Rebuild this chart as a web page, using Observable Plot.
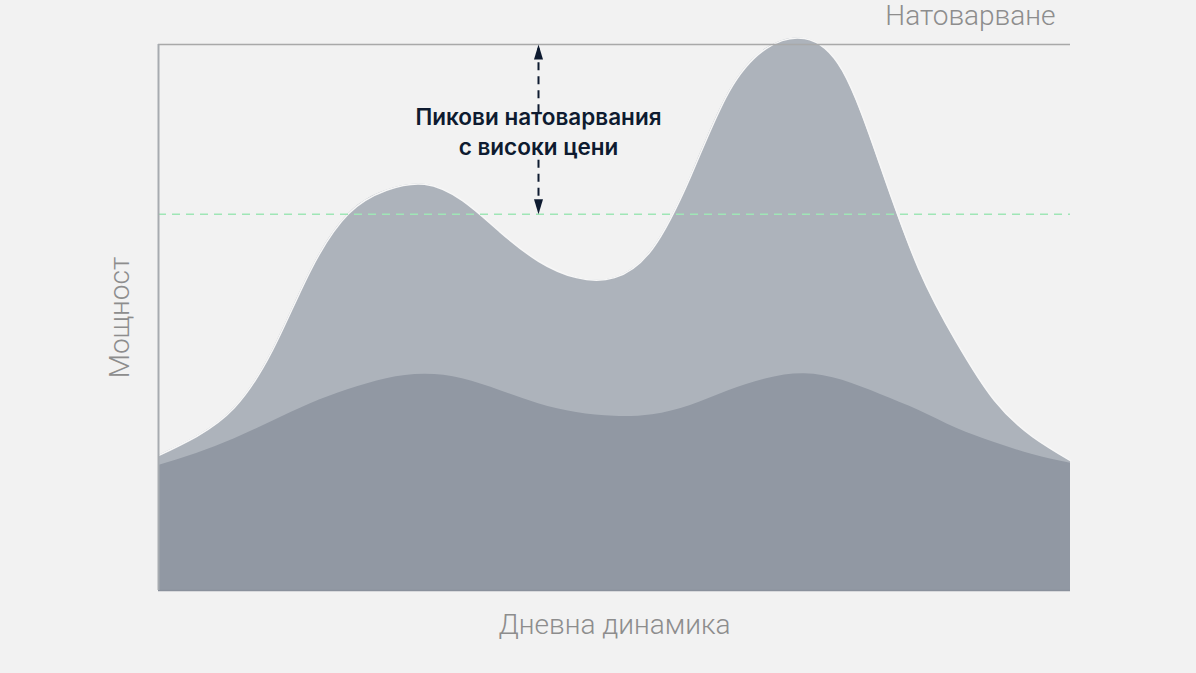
<!DOCTYPE html>
<html>
<head>
<meta charset="utf-8">
<script src="https://cdn.jsdelivr.net/npm/d3@7"></script>
<script src="https://cdn.jsdelivr.net/npm/@observablehq/plot@0.6"></script>
<style>
  html, body { margin: 0; padding: 0; background: #f2f2f2; }
  #chart svg { display: block; background: #f2f2f2; }
</style>
</head>
<body>
<div id="chart"></div>
<script>
// Hours of the day (x) and relative power (y, 0–100)
const hours = d3.range(0, 25);
const peakLoad = [24.7, 28.2, 33.5, 44.0, 58.6, 69.0, 73.3, 74.4, 71.4, 65.6, 60.3, 57.3, 57.3,
                  62.6, 75.8, 91.2, 99.3, 101.1, 95.2, 77.7, 59.0, 45.5, 34.8, 28.2, 23.8];
const baseLoad = [22.9, 25.1, 27.8, 31.0, 34.2, 36.8, 38.8, 39.6, 38.8, 36.6, 34.2, 32.6, 31.9,
                  32.2, 33.9, 36.6, 38.8, 39.7, 38.5, 35.9, 33.0, 29.7, 27.1, 24.9, 23.3];
const threshold = 68.9;
const capacity = 100;
const arrowX = 10;
const arrowUpper = [89.7, 100];
const arrowLower = [78.8, 68.9];
const noteY = 84.3;
const noteText = "Пикови натоварвания\nс високи цени";
const title = "Натоварване";
const yLabel = "Мощност";
const xLabel = "Дневна динамика";

const peak = hours.map((h, i) => ({h, v: peakLoad[i]}));
const base = hours.map((h, i) => ({h, v: baseLoad[i]}));

// narrow arrowhead with its tip at the origin
const headUp = {draw(ctx) { ctx.moveTo(0, 0); ctx.lineTo(4.5, 15); ctx.lineTo(-4.5, 15); ctx.closePath(); }};

const gray = "#8d8d8d";
const navy = "#0e1b30";

const chart = Plot.plot({
  width: 1196,
  height: 673,
  marginLeft: 158,
  marginRight: 126,
  marginTop: 44,
  marginBottom: 83,
  style: {background: "#f2f2f2", overflow: "visible"},
  x: {domain: [0, 24], axis: null},
  y: {domain: [0, 100], axis: null},
  marks: [
    Plot.areaY(peak, {x: "h", y: "v", fill: "#adb3bb", curve: "natural"}),
    Plot.lineY(peak, {x: "h", y: "v", stroke: "#f7f7f7", strokeWidth: 1.5, curve: "natural"}),
    Plot.areaY(base, {x: "h", y: "v", fill: "#9198a3", curve: "natural"}),
    Plot.ruleY([threshold], {stroke: "#9fe6b6", strokeWidth: 1.5, strokeDasharray: "8,6"}),
    Plot.ruleY([capacity], {stroke: "#a9a9a9", strokeWidth: 1.5}),
    Plot.ruleY([0], {stroke: "#8a919c", strokeWidth: 1.5}),
    Plot.ruleX([0], {stroke: "#a7abb0", strokeWidth: 2}),
    Plot.ruleX([arrowX], {y1: arrowUpper[0], y2: arrowUpper[1], stroke: navy, strokeWidth: 2, strokeDasharray: "8,6", insetTop: 12}),
    Plot.ruleX([arrowX], {y1: arrowLower[0], y2: arrowLower[1], stroke: navy, strokeWidth: 2, strokeDasharray: "8,6", insetBottom: 12}),
    Plot.dot([{x: arrowX, y: arrowUpper[1]}], {x: "x", y: "y", symbol: headUp, r: 5, fill: navy, stroke: null}),
    Plot.dot([{x: arrowX, y: arrowLower[1]}], {x: "x", y: "y", symbol: headUp, r: 5, rotate: 180, fill: navy, stroke: null}),
    Plot.text([noteText], {x: arrowX, y: noteY, fontSize: 22.5, fontWeight: 600, fill: navy, lineHeight: 1.33, fontFamily: "Inter, Roboto, sans-serif"}),
    Plot.text([title], {frameAnchor: "top-right", lineAnchor: "middle", dx: -15, dy: -28, fontSize: 28, fontWeight: 300, fill: gray, fontFamily: "Roboto", textAnchor: "end"}),
    Plot.text([yLabel], {frameAnchor: "left", dx: -38, rotate: -90, textAnchor: "middle", fontSize: 28, fontWeight: 300, fill: gray, fontFamily: "Roboto"}),
    Plot.text([xLabel], {frameAnchor: "bottom", lineAnchor: "middle", dy: 35, fontSize: 28, fontWeight: 300, fill: gray, fontFamily: "Roboto"})
  ]
});
document.getElementById("chart").append(chart);
</script>
</body>
</html>
